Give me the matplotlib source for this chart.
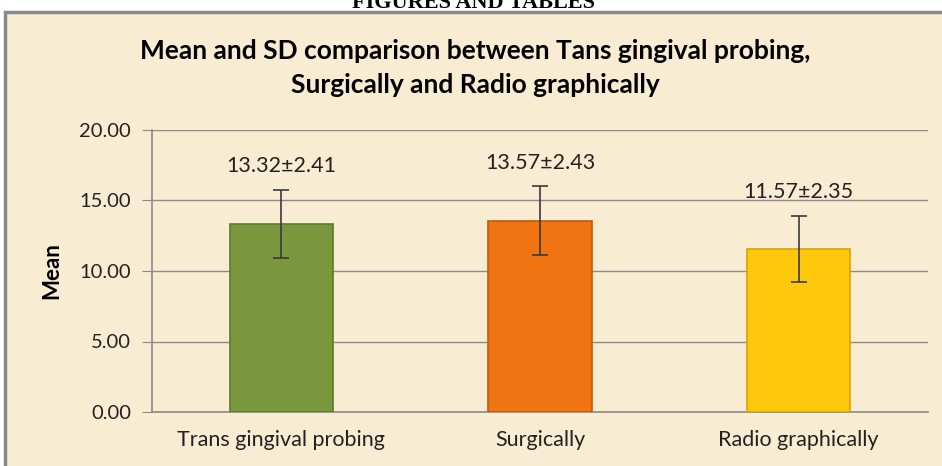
import matplotlib
matplotlib.use('Agg')
import matplotlib.pyplot as plt
from matplotlib.patches import Rectangle
import numpy as np

# data
groups = ['Trans gingival probing', 'Surgically', 'Radio graphically']
means = [13.32, 13.57, 11.57]
sds = [2.41, 2.43, 2.35]
bar_colors = ['#79973D', '#F07512', '#FFC80A']
edge_colors = ['#5E7A2C', '#C05A08', '#D9A400']

plt.rcParams['font.family'] = ['Lato', 'DejaVu Sans']

fig = plt.figure(figsize=(9.42, 4.66), dpi=100)
fig.patch.set_facecolor('white')
W, H = 942.0, 466.0

# background panel (beige with grey border, cut by the image edge)
bg = fig.add_axes([0, 0, 1, 1], zorder=-1)
bg.set_axis_off()
bg.set_xlim(0, W)
bg.set_ylim(H, 0)
bg.add_patch(Rectangle((5, 12), W + 20, H + 20, facecolor='#F8ECD3',
                       edgecolor='#8A8A8A', linewidth=2.5))

# page heading above the chart, clipped by the top edge as in the source
fig.text(473 / W, 1.0 - 8 / H, 'FIGURES AND TABLES', ha='center', va='baseline',
         family='Liberation Serif', fontweight='bold', fontsize=16)

ax = fig.add_axes([152 / W, 1 - 412 / H, (928 - 152) / W, (412 - 130) / H])
ax.set_facecolor('none')

x = np.arange(len(groups))
ax.bar(x, means, width=0.4, color=bar_colors, edgecolor=edge_colors, linewidth=1.2, zorder=3)
ax.errorbar(x, means, yerr=sds, fmt='none', ecolor='#3a3a3a', elinewidth=1.2,
            capsize=6, capthick=1.2, zorder=4)

for xi, m, s in zip(x, means, sds):
    ax.annotate(f'{m:.2f}\u00b1{s:.2f}', (xi, m + s), xytext=(0, 10),
                textcoords='offset points', ha='center', va='bottom', fontsize=15.5,
                color='#222222')

ax.set_xlim(-0.5, 2.5)
ax.set_ylim(0, 20)
ax.set_yticks([0, 5, 10, 15, 20])
ax.set_yticklabels([f'{v:.2f}' for v in [0, 5, 10, 15, 20]], fontsize=14.5, color='#222222')
ax.set_xticks(x)
ax.set_xticklabels(groups, fontsize=15.5, color='#222222')
ax.tick_params(axis='x', length=0, pad=13)
ax.tick_params(axis='y', length=7, color='#8A8A8A', pad=8)
ax.yaxis.grid(True, color='#8A8A8A', linewidth=1.0, zorder=0)
ax.set_axisbelow(True)
for side in ['top', 'right']:
    ax.spines[side].set_visible(False)
for side in ['left', 'bottom']:
    ax.spines[side].set_color('#8A8A8A')
    ax.spines[side].set_linewidth(1.2)

ax.set_ylabel('Mean', fontsize=16, fontweight='bold', labelpad=12)

fig.text(475 / W, 1 - 68 / H, 'Mean and SD comparison between Tans gingival probing,\nSurgically and Radio graphically',
         ha='center', va='center', fontsize=19, fontweight='bold', linespacing=1.5)

fig.savefig('out.png', dpi=100, facecolor=fig.get_facecolor())
